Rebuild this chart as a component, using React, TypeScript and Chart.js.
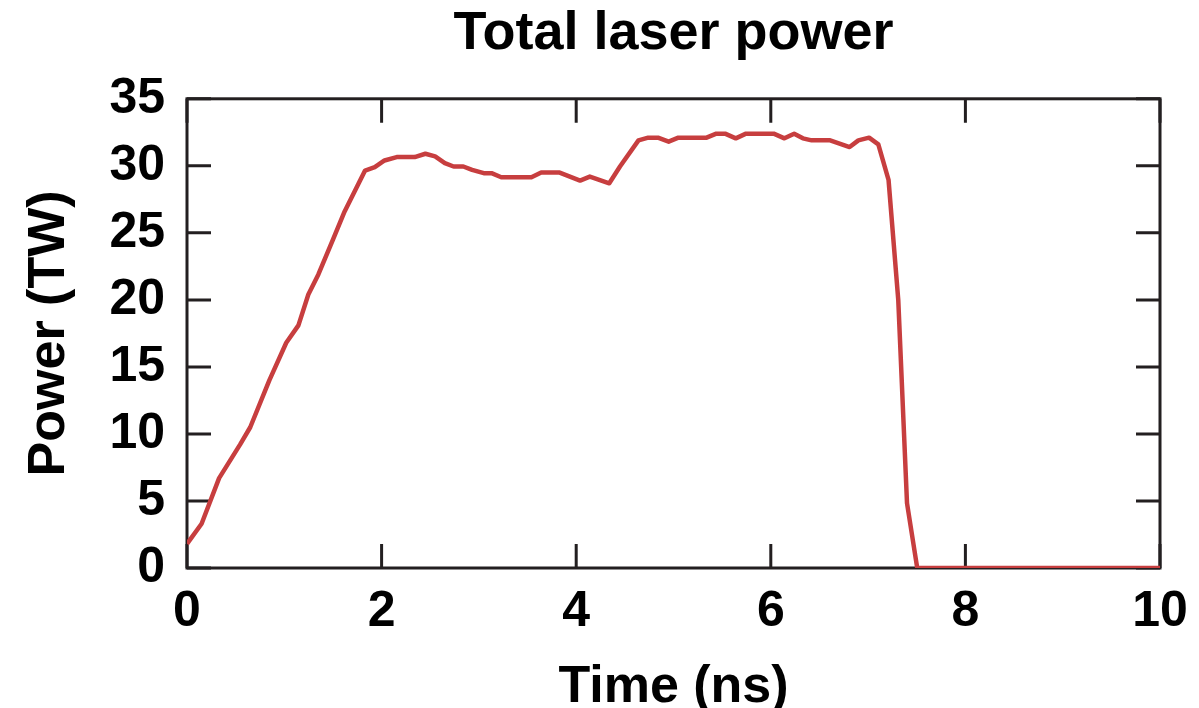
import React, { useEffect, useRef } from 'react';
import { Chart, registerables } from 'chart.js';

Chart.register(...registerables);

const timeNs = [
  0, 0.15, 0.33, 0.545, 0.65, 0.846, 1.02, 1.145, 1.247, 1.35,
  1.5, 1.62, 1.83, 1.93, 2.03, 2.155, 2.34, 2.45, 2.55, 2.65,
  2.74, 2.84, 2.93, 3.05, 3.13, 3.23, 3.54, 3.64, 3.83, 4.04,
  4.14, 4.34, 4.45, 4.64, 4.74, 4.84, 4.95, 5.05, 5.34, 5.44,
  5.53, 5.64, 5.745, 6.03, 6.14, 6.24, 6.33, 6.42, 6.61, 6.81,
  6.9, 7.01, 7.105, 7.21, 7.31, 7.4, 7.505, 10,
];
const powerTW = [
  1.8, 3.3, 6.7, 9.2, 10.5, 14.0, 16.8, 18.1, 20.4, 21.9,
  24.5, 26.6, 29.65, 29.9, 30.4, 30.65, 30.65, 30.9, 30.7, 30.2,
  29.95, 29.95, 29.7, 29.45, 29.45, 29.15, 29.15, 29.5, 29.5, 28.9,
  29.2, 28.7, 29.95, 31.9, 32.1, 32.1, 31.8, 32.1, 32.1, 32.4,
  32.4, 32.05, 32.4, 32.4, 32.05, 32.4, 32.05, 31.9, 31.9, 31.4,
  31.9, 32.1, 31.6, 28.96, 20.0, 4.83, 0, 0,
];
const xTicks = [0, 2, 4, 6, 8, 10];
const yTicks = [0, 5, 10, 15, 20, 25, 30, 35];

const FONT = '"Liberation Sans", Arial, Helvetica, sans-serif';

const framePlugin = {
  id: 'frame',
  beforeDatasetsDraw(chart: any) {
    const { ctx, chartArea, scales } = chart;
    const { left, right, top, bottom } = chartArea;
    const tl = 24;
    ctx.save();
    ctx.strokeStyle = '#231f20';
    ctx.lineWidth = 3;
    ctx.strokeRect(left, top, right - left, bottom - top);
    ctx.beginPath();
    for (const v of yTicks) {
      const y = scales.y.getPixelForValue(v);
      ctx.moveTo(left, y);
      ctx.lineTo(left + tl, y);
      ctx.moveTo(right, y);
      ctx.lineTo(right - tl, y);
    }
    for (const v of xTicks) {
      const x = scales.x.getPixelForValue(v);
      ctx.moveTo(x, bottom);
      ctx.lineTo(x, bottom - tl);
      ctx.moveTo(x, top);
      ctx.lineTo(x, top + tl);
    }
    ctx.stroke();
    ctx.restore();
  },
};

export default function App() {
  const ref = useRef<HTMLCanvasElement | null>(null);

  useEffect(() => {
    if (!ref.current) return;
    const data = timeNs.map((t, i) => ({ x: t, y: powerTW[i] }));
    const chart = new Chart(ref.current, {
      type: 'line',
      data: {
        datasets: [
          {
            label: 'Total laser power',
            data,
            borderColor: '#c73e3f',
            borderWidth: 4.5,
            pointRadius: 0,
            tension: 0,
            borderJoinStyle: 'round',
            fill: false,
          },
        ],
      },
      options: {
        animation: false,
        responsive: true,
        maintainAspectRatio: false,
        layout: { padding: { left: 0, right: 39, top: 0, bottom: 0 } },
        plugins: {
          legend: { display: false },
          tooltip: { enabled: false },
          title: {
            display: true,
            fullSize: false,
            text: 'Total laser power',
            color: '#000',
            font: { family: FONT, size: 54, weight: 'bold', lineHeight: 1.2 },
            padding: { top: 2, bottom: 32 },
          },
        },
        scales: {
          x: {
            type: 'linear',
            min: 0,
            max: 10,
            afterFit: (s: any) => {
              s.height = 140;
              s.paddingLeft = 0;
              s.paddingRight = 0;
            },
            afterBuildTicks: (s: any) => {
              s.ticks = xTicks.map((v) => ({ value: v }));
            },
            grid: { display: false, drawTicks: false },
            border: { display: false },
            ticks: {
              color: '#000',
              padding: 14,
              maxRotation: 0,
              font: { family: FONT, size: 50, weight: 'bold' },
            },
            title: {
              display: true,
              text: 'Time (ns)',
              color: '#000',
              font: { family: FONT, size: 52, weight: 'bold', lineHeight: 1 },
              padding: { top: 0, bottom: -6 },
            },
          },
          y: {
            type: 'linear',
            min: 0,
            max: 35,
            afterFit: (s: any) => {
              s.width = 187;
            },
            afterBuildTicks: (s: any) => {
              s.ticks = yTicks.map((v) => ({ value: v }));
            },
            grid: { display: false, drawTicks: false },
            border: { display: false },
            ticks: {
              color: '#000',
              padding: 22,
              font: { family: FONT, size: 50, weight: 'bold' },
            },
            title: {
              display: true,
              text: 'Power (TW)',
              color: '#000',
              font: { family: FONT, size: 52, weight: 'bold', lineHeight: 1 },
              padding: { top: 24, bottom: 0 },
            },
          },
        },
      },
      plugins: [framePlugin],
    });
    return () => chart.destroy();
  }, []);

  return (
    <div style={{ position: 'fixed', left: 0, top: 0, width: 1199, height: 708, background: '#fff' }}>
      <canvas ref={ref} />
    </div>
  );
}
